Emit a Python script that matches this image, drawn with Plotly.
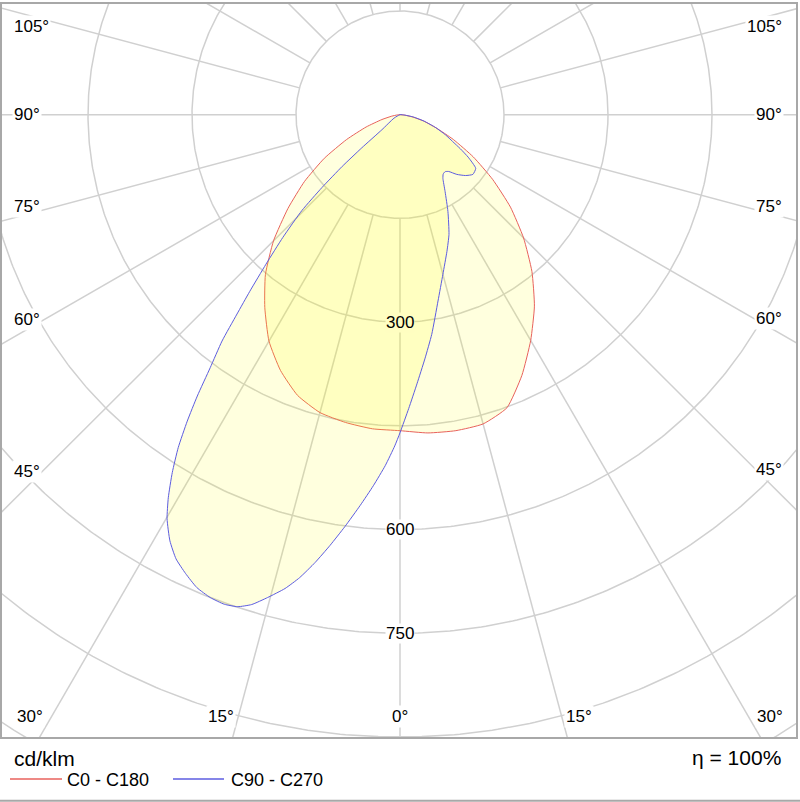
import numpy as np
import plotly.graph_objects as go

# ---------------- data (cd/klm) ----------------
# gamma in degrees from nadir; negative = left half of the plane
gamma_c0_c180 = [-90, -85, -80, -75, -70, -65, -60, -55, -50, -45, -40, -35, -30, -25, -20, -15, -10, -5,
                 0, 5, 10, 15, 20, 25, 30, 35, 40, 45, 50, 55, 60, 65, 70, 75, 80, 85, 90]
int_c0_c180 = [0, 4, 12, 27, 52, 85, 126, 168, 211, 258, 302, 340, 378, 408, 432, 446, 452, 456,
               457, 462, 464, 463, 451, 416, 377, 338, 296, 252, 208, 163, 122, 85, 55, 35, 18, 6, 0]

gamma_c90_c270 = [-90, -60, -50.2, -49, -48.1, -46.9, -45.6, -43.6, -41.8, -40.3, -39.2, -38.1, -36.8,
                  -35.7, -34.7, -33.6, -32.4, -31.1, -29.9, -28.3, -26.7, -25, -23.2, -21.4, -19.7, -18.2,
                  -16.8, -15.3, -13.6, -12.2, -10.7, -9.2, -7.6, -5.8, -4.1, -2.4, -0.9,
                  0, 1.7, 3.6, 5.8, 8.2, 11.5, 15, 18.9, 22.2, 26.3, 30.3, 33.9, 36, 38.3, 40.5, 43.5,
                  47, 50.6, 54.6, 58, 60.5, 63, 66, 70, 75, 80, 85, 90]
int_c90_c270 = [0, 10, 34, 73, 112, 154, 198, 245, 290, 335, 372, 416, 457,
                501, 539, 578, 613, 647, 674, 700, 719, 732, 744, 750, 752, 749,
                740, 724, 705, 685, 659, 631, 601, 568, 538, 508, 479,
                460, 425, 390, 355, 321, 275, 239, 209, 187, 156, 129, 111, 106, 105, 108, 119,
                129, 136, 134, 116, 100, 85, 72, 55, 36, 20, 7, 0]

circle_values = [150, 300, 450, 600, 750, 900, 1050]
radius_labels = [300, 600, 750]
radial_angles = list(range(0, 181, 15))
angle_labels = [0, 15, 30, 45, 60, 75, 90, 105]
series_names = ["C0 - C180", "C90 - C270"]
unit_text = "cd/klm"
eta_text = "η = 100%"

# ---------------- geometry ----------------
W, H = 800, 802
ML, MR, MT, MB = 2, 4, 2, 65
K = 104.0 / 150.0            # px per cd/klm
CX, CY = 400, 113            # pixel position of luminaire
XMIN = -(CX - ML) / K
XMAX = (W - MR - CX) / K
YMAX = (CY - MT) / K
YMIN = -(H - MB - CY) / K

FONT = "Liberation Sans, Arial, sans-serif"
GRID = "#D0D0D0"
FILL_A = 0.13
FILL = f"rgba(255,254,0,{FILL_A})"
RED = "#E8625C"
BLUE = "#5C5CE0"


def polar_xy(gam, val):
    g = np.radians(np.asarray(gam, dtype=float))
    v = np.asarray(val, dtype=float)
    return v * np.sin(g), -v * np.cos(g)


fig = go.Figure()

# grid circles
cx, cy = [], []
th = np.linspace(0, 2 * np.pi, 721)
for v in circle_values:
    cx += list(v * np.cos(th)) + [None]
    cy += list(v * np.sin(th)) + [None]
fig.add_trace(go.Scatter(x=cx, y=cy, mode="lines", line=dict(color=GRID, width=1.5),
                         hoverinfo="skip", showlegend=False))

# radial lines
rx, ry = [], []
r0, r1 = circle_values[0], 1400
for a in radial_angles:
    for s in ([1] if a in (0, 180) else [1, -1]):
        x, y = polar_xy([s * a, s * a], [r0, r1])
        rx += list(x) + [None]
        ry += list(y) + [None]
fig.add_trace(go.Scatter(x=rx, y=ry, mode="lines", line=dict(color=GRID, width=1.5),
                         hoverinfo="skip", showlegend=False))

# curves
for gam, val, col, name in [(gamma_c0_c180, int_c0_c180, RED, series_names[0]),
                            (gamma_c90_c270, int_c90_c270, BLUE, series_names[1])]:
    x, y = polar_xy(gam, val)
    fig.add_trace(go.Scatter(x=x, y=y, mode="lines", fill="toself", fillcolor=FILL,
                             line=dict(color=col, width=1, shape="spline", smoothing=0.5),
                             name=name, hoverinfo="skip", showlegend=False))

annotations = []
# radius labels
overlap_b = int(round(255 * (1 - FILL_A) ** 2))
for v in radius_labels:
    bg = f"rgb(255,254,{overlap_b})" if v == radius_labels[0] else "white"
    annotations.append(dict(x=0, y=-v, xref="x", yref="y", text=str(v), showarrow=False,
                            font=dict(family=FONT, size=17, color="black"),
                            bgcolor=bg, borderpad=0))

# angle labels: placed near where each ray leaves the frame, nudged towards 90°
side_in = 28 / K
bot_in = 21 / K
for a in angle_labels:
    for s in ([1] if a == 0 else [-1, 1]):
        xedge = (XMAX if s > 0 else -XMIN) - side_in
        if a == 0:
            gs = gb = 0.0
        elif a < 90:
            gs, gb = a + 1.0, a + 1.5
        elif a > 90:
            gs = gb = a - 1.5
        else:
            gs = gb = 90.0
        g_s, g_b = np.radians(gs), np.radians(gb)
        g0 = np.radians(a)
        te_side = xedge / np.sin(g0) if np.sin(g0) > 1e-9 else np.inf
        te_bot = (-YMIN - bot_in) / np.cos(g0) if np.cos(g0) > 1e-9 else np.inf
        if te_side < te_bot:
            y = -(xedge / np.sin(g_s)) * np.cos(g_s)
            if s < 0:
                x, xa = XMIN + 10 / K, "left"
            else:
                x, xa = XMAX - 12 / K, "right"
        else:
            t_bot = (-YMIN - bot_in) / np.cos(g_b)
            x, y, xa = s * t_bot * np.sin(g_b), YMIN + bot_in, "center"
        annotations.append(dict(x=x, y=y, xref="x", yref="y", text=f"{a}°", showarrow=False,
                                xanchor=xa, yanchor="middle",
                                font=dict(family=FONT, size=17, color="black"),
                                bgcolor="white", borderpad=1))


def px_x(p):
    return (p - ML) / (W - ML - MR)


def px_y(p):
    return (H - MB - p) / (H - MT - MB)


annotations += [
    dict(x=px_x(12), y=px_y(759), xref="paper", yref="paper", text=unit_text, showarrow=False,
         xanchor="left", yanchor="middle", font=dict(family=FONT, size=21, color="black")),
    dict(x=px_x(783), y=px_y(758), xref="paper", yref="paper", text=eta_text, showarrow=False,
         xanchor="right", yanchor="middle", font=dict(family=FONT, size=21, color="black")),
    dict(x=px_x(65), y=px_y(780), xref="paper", yref="paper", text=series_names[0], showarrow=False,
         xanchor="left", yanchor="middle", font=dict(family=FONT, size=18, color="black")),
    dict(x=px_x(229), y=px_y(780), xref="paper", yref="paper", text=series_names[1], showarrow=False,
         xanchor="left", yanchor="middle", font=dict(family=FONT, size=18, color="black")),
]

shapes = [
    dict(type="line", xref="paper", yref="paper", x0=px_x(10), x1=px_x(62), y0=px_y(779), y1=px_y(779),
         line=dict(color=RED, width=1.5)),
    dict(type="line", xref="paper", yref="paper", x0=px_x(173), x1=px_x(224), y0=px_y(779), y1=px_y(779),
         line=dict(color=BLUE, width=1.5)),
    dict(type="line", xref="paper", yref="paper", x0=px_x(0), x1=px_x(800), y0=px_y(801), y1=px_y(801),
         line=dict(color="#A8A8A8", width=2)),
]

axis_common = dict(showgrid=False, zeroline=False, showticklabels=False, ticks="",
                   showline=True, mirror=True, linecolor="#A8A8A8", linewidth=2, fixedrange=True)
fig.update_layout(
    width=W, height=H, margin=dict(l=ML, r=MR, t=MT, b=MB, pad=0),
    paper_bgcolor="white", plot_bgcolor="white", showlegend=False, hovermode=False,
    xaxis=dict(range=[XMIN, XMAX], **axis_common),
    yaxis=dict(range=[YMIN, YMAX], **axis_common),
    annotations=annotations, shapes=shapes,
)

fig.write_html("out.html")
